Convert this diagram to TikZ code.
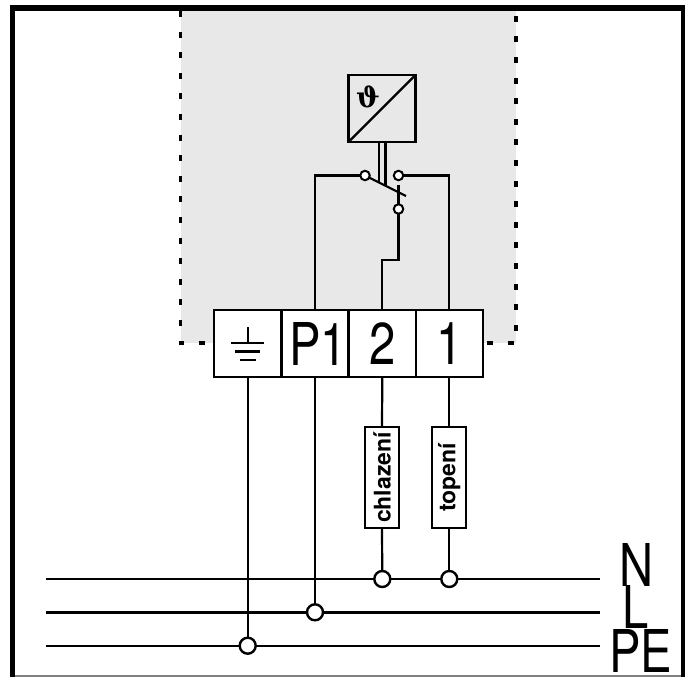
\documentclass[tikz,border=0pt]{standalone}
\usepackage{graphicx}
\usepackage{fontspec}
\newfontfamily\labelfont{TeX Gyre Heros}
\newfontfamily\thetafont{DejaVu Serif}
\definecolor{panelgray}{HTML}{E8E8E8}
\tikzset{
  x=1pt,y=-1pt,
  wire/.style={draw=black,line width=2.2pt},
  bus/.style={draw=black,line width=2.4pt},
  frameline/.style={draw=black,line width=5.5pt},
  termbox/.style={draw=black,line width=2.2pt,fill=white,minimum width=67pt,minimum height=67pt,inner sep=0pt,outer sep=0pt},
  bigtext/.style={font=\labelfont\fontsize{59}{59}\selectfont,inner sep=0pt},
  loadbox/.style={draw=black,line width=2.2pt,fill=white,minimum width=101pt,minimum height=34pt,inner sep=0pt,rotate=90,font=\labelfont\bfseries\fontsize{23}{23}\selectfont},
  tap/.style={circle,draw=black,line width=2.4pt,fill=white,minimum size=16pt,inner sep=0pt},
  contact/.style={circle,draw=black,line width=2pt,fill=white,minimum size=9.5pt,inner sep=0pt},
  dotted edge/.style={draw=black,line width=3.6pt,dash pattern=on 6pt off 14.6pt}
}
\newcommand{\narrow}[1]{\scalebox{0.8}[1]{#1}}
\begin{document}
\begin{tikzpicture}
\useasboundingbox (0,0) rectangle (685,677);
\fill[white] (0,0) rectangle (685,677);
% shaded region
\fill[panelgray] (181,11) rectangle (516,343);
\draw[dotted edge] (180.5,11) -- (180.5,343) -- (516,343) -- (516,11);
% frame
\draw[draw=gray,line width=1.5pt] (10,676) -- (685,676);
\draw[frameline] (12.5,677) -- (12.5,8) -- (683,8);
\draw[draw=black,line width=4pt] (683,5) -- (683,677);
% converter
\node[draw=black,line width=2.2pt,fill=panelgray,minimum size=67pt,inner sep=0pt,outer sep=0pt] (conv) at (382,108.5) {};
\draw[wire] (conv.south west) -- (conv.north east);
\node[inner sep=0pt] (theta) at (368,96.5) {\fontsize{28}{28}\selectfont\thetafont\bfseries ϑ};
% terminals
\node[termbox] (tpe) at (247.7,343.5) {};
\node[termbox] (tp1) at (315,343.5) {};
\node[termbox] (t2) at (382.3,343.5) {};
\node[termbox] (t1) at (449.3,343.5) {};
\node[bigtext] at (318,343.5) {\narrow{P1}};
\node[bigtext] at (382.3,343.5) {\narrow{2}};
\node[bigtext] at (449.3,343.5) {\narrow{1}};
% earth symbol
\coordinate (e0) at (247.7,327);
\coordinate (e1) at (247.7,343);
\draw[wire] (e0) -- (e1);
\draw[wire] (231,343) -- (264,343);
\draw[wire] (235,351.5) -- (260,351.5);
\draw[wire] (240,360) -- (256,360);
% switch
\coordinate (blade) at (406,196);
\coordinate (bladeroot) at (365,175.5);
\draw[line width=2.4pt] (379,142) -- (379,182);
\draw[line width=2.4pt] (385.3,142) -- (385.3,186);
\draw[wire] (bladeroot) -- (blade);
\draw[wire] (398.5,185) -- (398.5,209);
\coordinate (cl) at (365,175.5);
\coordinate (cr) at (398.5,175.5);
\coordinate (cb) at (398.5,209);
\draw[wire] (cl) -| (tp1.north);
\draw[wire] (cr) -| (t1.north);
\draw[wire] (cb) -- (398.5,260) -- (382.3,260) -- (t2.north);
\node[contact] at (cl) {};
\node[contact] at (cr) {};
\node[contact] at (cb) {};
% bus bars
\coordinate (nl) at (46,579); \coordinate (nr) at (600,579);
\coordinate (ll) at (46,612.3); \coordinate (lr) at (600,612.3);
\coordinate (pl) at (46,645.7); \coordinate (pr) at (600,645.7);
\draw[bus] (nl) -- (nr);
\draw[bus] (ll) -- (lr);
\draw[bus] (pl) -- (pr);
% connectors and tap points
\node[tap] (tapn2) at (382.3,579) {};
\node[tap] (tapn1) at (449.3,579) {};
\node[tap] (tapl) at (315,612.3) {};
\node[tap] (tapp) at (247.7,645.7) {};
\draw[wire] (tpe.south) -- (tapp);
\draw[wire] (tp1.south) -- (tapl);
% load boxes
\node[loadbox] (lc) at (382,477.5) {chlazení};
\node[loadbox] (lt) at (449.3,477.5) {topení};
\draw[wire] (t2.south) -- (lc.east);
\draw[wire] (lc.west) -- (tapn2);
\draw[wire] (t1.south) -- (lt.east);
\draw[wire] (lt.west) -- (tapn1);
% line labels
\node[bigtext,anchor=base] at (637,586) {\narrow{N}};
\node[bigtext,anchor=base] at (636,628.5) {\narrow{L}};
\node[bigtext,anchor=base] at (640.5,672) {\narrow{PE}};
\end{tikzpicture}
\end{document}
